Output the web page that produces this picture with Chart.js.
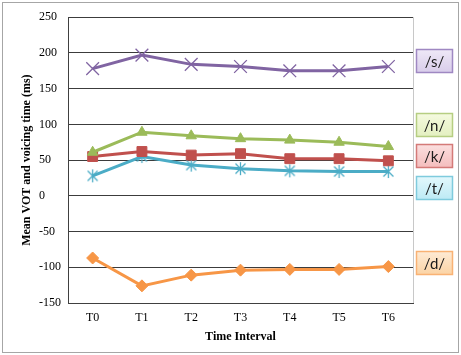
<!DOCTYPE html>
<html>
<head>
<meta charset="utf-8">
<script src="https://cdn.jsdelivr.net/npm/chart.js@4/dist/chart.umd.min.js"></script>
<style>
html,body{margin:0;padding:0;background:#fff;}
#wrap{position:relative;width:461px;height:355px;}
</style>
</head>
<body>
<div id="wrap"><canvas id="c" width="461" height="355"></canvas></div>
<script>
// ---- data ----
const categories = ['T0','T1','T2','T3','T4','T5','T6'];
const sValues = [178, 197, 184, 181, 175, 175, 181];
const nValues = [61, 89, 84, 80, 78, 75, 69];
const kValues = [55, 62, 57, 59, 52, 52, 49];
const tValues = [28, 55, 43, 38, 35, 34, 34];
const dValues = [-87, -126, -111, -104, -103, -103, -99];
const seriesLabels = ['/s/', '/n/', '/k/', '/t/', '/d/'];
const yTickMin = -150, yTickMax = 250, yTickStep = 50;

// ---- styles ----
const lineColors = ['#8064A2', '#9BBB59', '#C0504D', '#4BACC6', '#F79646'];
const boxTop = ['#EFE9F7', '#F5FAE0', '#FBE0E0', '#E4F8FC', '#FEEBD6'];
const boxBottom = ['#D8CCEA', '#E3EFC0', '#F4BCBC', '#BCEAF5', '#FBD3A4'];
const boxBorder = ['#9F88C2', '#B6CE82', '#D47A78', '#7FCBDD', '#F9B274'];
const boxYs = [49, 113, 144, 176, 251];

// Excel-style asterisk marker (X plus vertical bar)
function asterisk(color) {
  const c = document.createElement('canvas');
  c.width = 15; c.height = 15;
  const g = c.getContext('2d');
  g.strokeStyle = color; g.lineWidth = 1.3;
  g.beginPath();
  g.moveTo(2.5, 2.5); g.lineTo(12.5, 12.5);
  g.moveTo(12.5, 2.5); g.lineTo(2.5, 12.5);
  g.moveTo(7.5, 1); g.lineTo(7.5, 14);
  g.stroke();
  return c;
}
const markers = ['crossRot', 'triangle', 'rect', asterisk('#4BACC6'), 'rectRot'];
const markerRadius = [9, 6, 7, 7, 6];

const seriesData = [sValues, nValues, kValues, tValues, dValues];
const datasets = seriesData.map((vals, i) => ({
  label: seriesLabels[i],
  data: vals,
  borderColor: lineColors[i],
  backgroundColor: lineColors[i],
  borderWidth: 3,
  pointStyle: markers[i],
  pointRadius: markerRadius[i],
  pointBorderWidth: i === 0 ? 1.3 : 1,
  pointBorderColor: lineColors[i],
  pointBackgroundColor: lineColors[i],
  tension: 0
}));

const framePlugin = {
  id: 'frame',
  afterDraw(chart) {
    const ctx = chart.ctx;
    const a = chart.chartArea;
    ctx.save();
    ctx.strokeStyle = '#c8c8c8';
    ctx.lineWidth = 1;
    ctx.beginPath();
    ctx.moveTo(Math.round(a.right) + 0.5, a.top);
    ctx.lineTo(Math.round(a.right) + 0.5, a.bottom);
    ctx.stroke();
    ctx.strokeStyle = '#a6a6a6';
    ctx.strokeRect(2.5, 2.5, 456, 350);
    const bx = 416, bw = 37, bh = 24;
    seriesLabels.forEach((lab, i) => {
      const by = boxYs[i];
      const g = ctx.createLinearGradient(0, by, 0, by + bh);
      g.addColorStop(0, boxTop[i]);
      g.addColorStop(1, boxBottom[i]);
      ctx.fillStyle = g;
      ctx.fillRect(bx, by, bw, bh);
      ctx.strokeStyle = boxBorder[i];
      ctx.lineWidth = 1.5;
      ctx.strokeRect(bx + 0.5, by + 0.5, bw - 1, bh - 1);
      ctx.fillStyle = '#1a1a1a';
      ctx.font = '15px Lato, "Liberation Sans", sans-serif';
      ctx.textAlign = 'center';
      ctx.textBaseline = 'middle';
      ctx.fillText(lab, bx + bw / 2, by + bh / 2 + 1);
    });
    ctx.restore();
  }
};

new Chart(document.getElementById('c'), {
  type: 'line',
  data: { labels: categories, datasets },
  options: {
    responsive: false,
    animation: false,
    devicePixelRatio: 1,
    layout: { padding: { left: 39, right: 48, top: 15, bottom: 0 } },
    plugins: { legend: { display: false }, tooltip: { enabled: false } },
    scales: {
      x: {
        offset: true,
        grid: { display: false, drawTicks: false },
        border: { display: true, color: '#404040', width: 1 },
        ticks: { padding: 8, color: '#000', font: { family: '"Liberation Serif", serif', size: 12 } },
        title: { display: true, text: 'Time Interval', color: '#000',
          font: { family: '"Liberation Serif", serif', size: 12, weight: 'bold' },
          padding: { top: 0, bottom: 11 } },
        afterFit(s) { s.height = 52; }
      },
      y: {
        min: yTickMin, max: yTickMax,
        grid: { color: '#3c3c3c', lineWidth: 1, drawTicks: false },
        border: { display: true, color: '#404040', width: 1 },
        ticks: { stepSize: yTickStep, padding: 10, crossAlign: 'far', color: '#000',
          font: { family: '"Liberation Serif", serif', size: 12 } },
        title: { display: true, text: 'Mean VOT and voicing time (ms)', color: '#000',
          font: { family: '"Liberation Serif", serif', size: 12, weight: 'bold' },
          padding: { top: -19, bottom: 0 } },
        afterFit(s) { s.width = 29; }
      }
    }
  },
  plugins: [framePlugin]
});
</script>
</body>
</html>
